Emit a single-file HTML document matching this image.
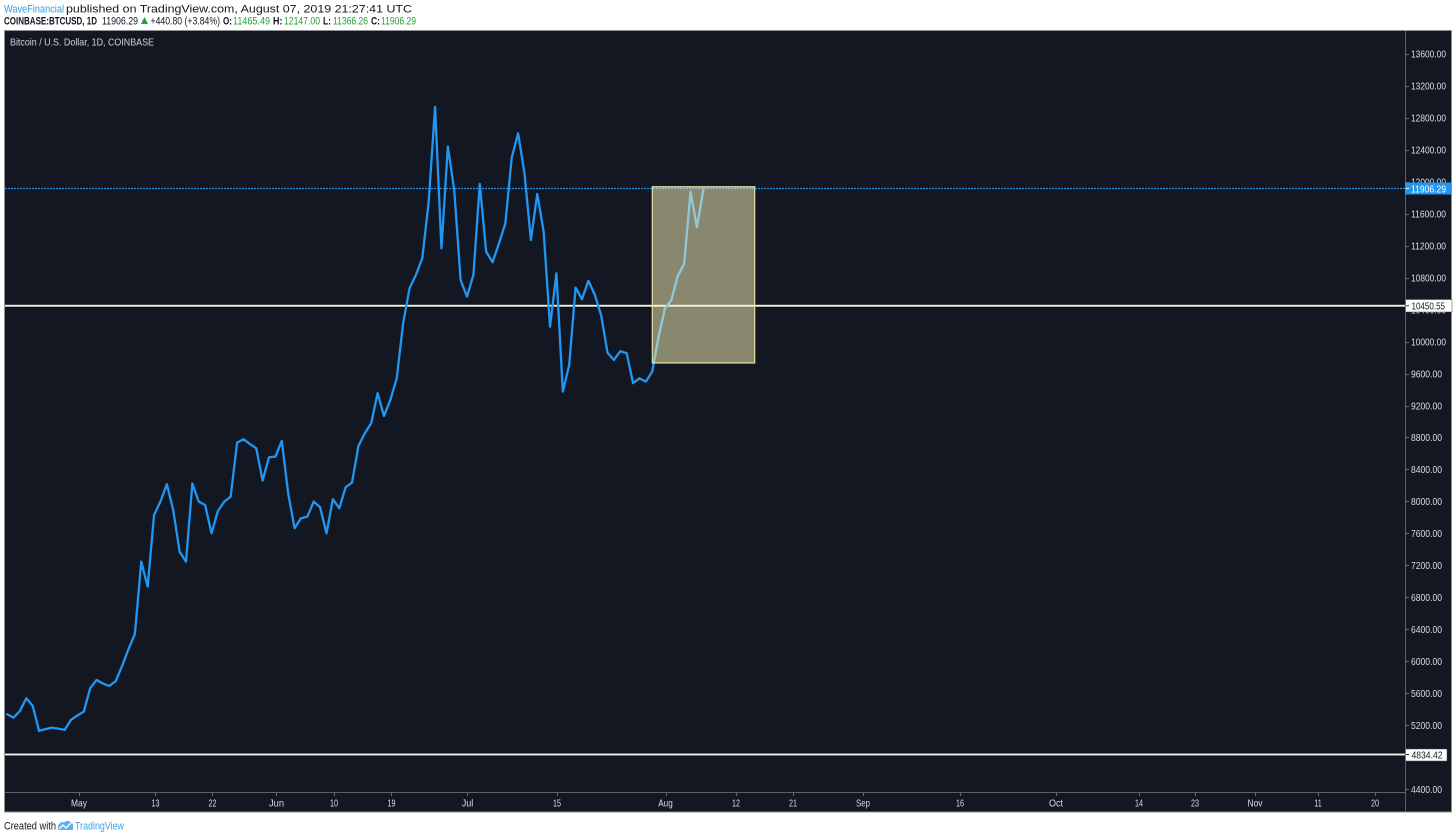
<!DOCTYPE html>
<html>
<head>
<meta charset="utf-8">
<style>
  html,body{margin:0;padding:0;background:#ffffff;}
  body{width:1456px;height:838px;overflow:hidden;}
  svg{display:block;}
  text{font-family:"Liberation Sans",sans-serif;}
</style>
</head>
<body>
<svg width="1456" height="838" viewBox="0 0 1456 838" xmlns="http://www.w3.org/2000/svg">
  <defs>
    <clipPath id="plot"><rect x="5" y="31" width="1400" height="761"/></clipPath>
  </defs>

  <!-- Header -->
  <text x="4" y="12.3" font-size="11" fill="#2f9fe0" textLength="60" lengthAdjust="spacingAndGlyphs">WaveFinancial</text>
  <text x="66" y="12.3" font-size="11" fill="#131722" textLength="346" lengthAdjust="spacingAndGlyphs">published on TradingView.com, August 07, 2019 21:27:41 UTC</text>

  <text x="4" y="24.3" font-size="11" font-weight="bold" fill="#131722" textLength="93" lengthAdjust="spacingAndGlyphs">COINBASE:BTCUSD, 1D</text>
  <text x="102" y="24.3" font-size="11" fill="#131722" textLength="36" lengthAdjust="spacingAndGlyphs">11906.29</text>
  <path d="M141,24 L144.5,17 L148,24 Z" fill="#22a33a"/>
  <text x="150.5" y="24.3" font-size="11" fill="#131722" textLength="69.5" lengthAdjust="spacingAndGlyphs">+440.80 (+3.84%)</text>
  <text x="223" y="24.3" font-size="11" font-weight="bold" fill="#131722" textLength="9" lengthAdjust="spacingAndGlyphs">O:</text>
  <text x="233" y="24.3" font-size="11" fill="#22a33a" textLength="37" lengthAdjust="spacingAndGlyphs">11465.49</text>
  <text x="273" y="24.3" font-size="11" font-weight="bold" fill="#131722" textLength="9.5" lengthAdjust="spacingAndGlyphs">H:</text>
  <text x="284" y="24.3" font-size="11" fill="#22a33a" textLength="36" lengthAdjust="spacingAndGlyphs">12147.00</text>
  <text x="323" y="24.3" font-size="11" font-weight="bold" fill="#131722" textLength="8" lengthAdjust="spacingAndGlyphs">L:</text>
  <text x="333" y="24.3" font-size="11" fill="#22a33a" textLength="35" lengthAdjust="spacingAndGlyphs">11366.26</text>
  <text x="371" y="24.3" font-size="11" font-weight="bold" fill="#131722" textLength="9" lengthAdjust="spacingAndGlyphs">C:</text>
  <text x="381" y="24.3" font-size="11" fill="#22a33a" textLength="35" lengthAdjust="spacingAndGlyphs">11906.29</text>

  <!-- Panel -->
  <rect x="4.5" y="30.5" width="1447" height="781.5" fill="#131722" stroke="#8e9096" stroke-width="1"/>

  <!-- Title -->
  <text x="10" y="45.7" font-size="10.5" fill="#d1d4dc" textLength="144" lengthAdjust="spacingAndGlyphs">Bitcoin / U.S. Dollar, 1D, COINBASE</text>

  <!-- Axis separators -->
  <line x1="5" y1="792.5" x2="1405" y2="792.5" stroke="#5d606b" stroke-width="1"/>
  <line x1="1405.5" y1="31" x2="1405.5" y2="812" stroke="#5d606b" stroke-width="1"/>

  <!-- Price axis ticks & labels -->
  <g stroke="#6a6d78" stroke-width="1">
    <line x1="1406" y1="54.5" x2="1409" y2="54.5"/>
    <line x1="1406" y1="86.5" x2="1409" y2="86.5"/>
    <line x1="1406" y1="118.5" x2="1409" y2="118.5"/>
    <line x1="1406" y1="150.5" x2="1409" y2="150.5"/>
    <line x1="1406" y1="182.5" x2="1409" y2="182.5"/>
    <line x1="1406" y1="214.5" x2="1409" y2="214.5"/>
    <line x1="1406" y1="246.5" x2="1409" y2="246.5"/>
    <line x1="1406" y1="278.5" x2="1409" y2="278.5"/>
    <line x1="1406" y1="310.5" x2="1409" y2="310.5"/>
    <line x1="1406" y1="342.5" x2="1409" y2="342.5"/>
    <line x1="1406" y1="374.5" x2="1409" y2="374.5"/>
    <line x1="1406" y1="406.5" x2="1409" y2="406.5"/>
    <line x1="1406" y1="437.5" x2="1409" y2="437.5"/>
    <line x1="1406" y1="469.5" x2="1409" y2="469.5"/>
    <line x1="1406" y1="501.5" x2="1409" y2="501.5"/>
    <line x1="1406" y1="533.5" x2="1409" y2="533.5"/>
    <line x1="1406" y1="565.5" x2="1409" y2="565.5"/>
    <line x1="1406" y1="597.5" x2="1409" y2="597.5"/>
    <line x1="1406" y1="629.5" x2="1409" y2="629.5"/>
    <line x1="1406" y1="661.5" x2="1409" y2="661.5"/>
    <line x1="1406" y1="693.5" x2="1409" y2="693.5"/>
    <line x1="1406" y1="725.5" x2="1409" y2="725.5"/>
    <line x1="1406" y1="757.5" x2="1409" y2="757.5"/>
    <line x1="1406" y1="789.5" x2="1409" y2="789.5"/>
  </g>
  <g font-size="10.5" fill="#dadde4">
    <text x="1411" y="57.7" textLength="35" lengthAdjust="spacingAndGlyphs">13600.00</text>
    <text x="1411" y="89.7" textLength="35" lengthAdjust="spacingAndGlyphs">13200.00</text>
    <text x="1411" y="121.7" textLength="35" lengthAdjust="spacingAndGlyphs">12800.00</text>
    <text x="1411" y="153.7" textLength="35" lengthAdjust="spacingAndGlyphs">12400.00</text>
    <text x="1411" y="185.7" textLength="35" lengthAdjust="spacingAndGlyphs">12000.00</text>
    <text x="1411" y="217.7" textLength="35" lengthAdjust="spacingAndGlyphs">11600.00</text>
    <text x="1411" y="249.7" textLength="35" lengthAdjust="spacingAndGlyphs">11200.00</text>
    <text x="1411" y="281.7" textLength="35" lengthAdjust="spacingAndGlyphs">10800.00</text>
    <text x="1411" y="313.7" textLength="35" lengthAdjust="spacingAndGlyphs">10400.00</text>
    <text x="1411" y="345.7" textLength="35" lengthAdjust="spacingAndGlyphs">10000.00</text>
    <text x="1411" y="377.7" textLength="31" lengthAdjust="spacingAndGlyphs">9600.00</text>
    <text x="1411" y="409.7" textLength="31" lengthAdjust="spacingAndGlyphs">9200.00</text>
    <text x="1411" y="441.2" textLength="31" lengthAdjust="spacingAndGlyphs">8800.00</text>
    <text x="1411" y="473.2" textLength="31" lengthAdjust="spacingAndGlyphs">8400.00</text>
    <text x="1411" y="505.2" textLength="31" lengthAdjust="spacingAndGlyphs">8000.00</text>
    <text x="1411" y="537.2" textLength="31" lengthAdjust="spacingAndGlyphs">7600.00</text>
    <text x="1411" y="569.2" textLength="31" lengthAdjust="spacingAndGlyphs">7200.00</text>
    <text x="1411" y="601.2" textLength="31" lengthAdjust="spacingAndGlyphs">6800.00</text>
    <text x="1411" y="633.2" textLength="31" lengthAdjust="spacingAndGlyphs">6400.00</text>
    <text x="1411" y="665.2" textLength="31" lengthAdjust="spacingAndGlyphs">6000.00</text>
    <text x="1411" y="697.2" textLength="31" lengthAdjust="spacingAndGlyphs">5600.00</text>
    <text x="1411" y="729.2" textLength="31" lengthAdjust="spacingAndGlyphs">5200.00</text>
    <text x="1411" y="761.2" textLength="31" lengthAdjust="spacingAndGlyphs">4800.00</text>
    <text x="1411" y="793" textLength="31" lengthAdjust="spacingAndGlyphs">4400.00</text>
  </g>

  <!-- Time axis ticks & labels -->
  <g stroke="#6a6d78" stroke-width="1">
    <line x1="79.5" y1="793" x2="79.5" y2="796"/>
    <line x1="155.5" y1="793" x2="155.5" y2="796"/>
    <line x1="212.5" y1="793" x2="212.5" y2="796"/>
    <line x1="276.5" y1="793" x2="276.5" y2="796"/>
    <line x1="334.5" y1="793" x2="334.5" y2="796"/>
    <line x1="391.5" y1="793" x2="391.5" y2="796"/>
    <line x1="467.5" y1="793" x2="467.5" y2="796"/>
    <line x1="557.5" y1="793" x2="557.5" y2="796"/>
    <line x1="666.5" y1="793" x2="666.5" y2="796"/>
    <line x1="736.5" y1="793" x2="736.5" y2="796"/>
    <line x1="793.5" y1="793" x2="793.5" y2="796"/>
    <line x1="863.5" y1="793" x2="863.5" y2="796"/>
    <line x1="960.5" y1="793" x2="960.5" y2="796"/>
    <line x1="1056.5" y1="793" x2="1056.5" y2="796"/>
    <line x1="1139.5" y1="793" x2="1139.5" y2="796"/>
    <line x1="1195.5" y1="793" x2="1195.5" y2="796"/>
    <line x1="1255.5" y1="793" x2="1255.5" y2="796"/>
    <line x1="1318.5" y1="793" x2="1318.5" y2="796"/>
    <line x1="1375.5" y1="793" x2="1375.5" y2="796"/>
  </g>
  <g font-size="10.5" fill="#dadde4" text-anchor="middle">
    <text x="79" y="806.5" textLength="16" lengthAdjust="spacingAndGlyphs">May</text>
    <text x="155.5" y="806.5" textLength="8" lengthAdjust="spacingAndGlyphs">13</text>
    <text x="212.5" y="806.5" textLength="8" lengthAdjust="spacingAndGlyphs">22</text>
    <text x="276.5" y="806.5" textLength="15" lengthAdjust="spacingAndGlyphs">Jun</text>
    <text x="334" y="806.5" textLength="8" lengthAdjust="spacingAndGlyphs">10</text>
    <text x="391.5" y="806.5" textLength="8" lengthAdjust="spacingAndGlyphs">19</text>
    <text x="467.5" y="806.5" textLength="11.5" lengthAdjust="spacingAndGlyphs">Jul</text>
    <text x="557" y="806.5" textLength="8" lengthAdjust="spacingAndGlyphs">15</text>
    <text x="665.5" y="806.5" textLength="14.5" lengthAdjust="spacingAndGlyphs">Aug</text>
    <text x="736" y="806.5" textLength="8" lengthAdjust="spacingAndGlyphs">12</text>
    <text x="793" y="806.5" textLength="8" lengthAdjust="spacingAndGlyphs">21</text>
    <text x="863" y="806.5" textLength="14" lengthAdjust="spacingAndGlyphs">Sep</text>
    <text x="960" y="806.5" textLength="8" lengthAdjust="spacingAndGlyphs">16</text>
    <text x="1056" y="806.5" textLength="14" lengthAdjust="spacingAndGlyphs">Oct</text>
    <text x="1139" y="806.5" textLength="8" lengthAdjust="spacingAndGlyphs">14</text>
    <text x="1195" y="806.5" textLength="8" lengthAdjust="spacingAndGlyphs">23</text>
    <text x="1255" y="806.5" textLength="15" lengthAdjust="spacingAndGlyphs">Nov</text>
    <text x="1318" y="806.5" textLength="7.5" lengthAdjust="spacingAndGlyphs">11</text>
    <text x="1375" y="806.5" textLength="8" lengthAdjust="spacingAndGlyphs">20</text>
  </g>

  <!-- Plot content -->
  <g clip-path="url(#plot)">
    <!-- last price dotted line -->
    <line x1="5" y1="188.5" x2="1405" y2="188.5" stroke="#2196f3" stroke-width="1.2" stroke-dasharray="2 1" stroke-opacity="0.95"/>
    <!-- horizontal white levels -->
    <line x1="5" y1="305.8" x2="1405" y2="305.8" stroke="#000000" stroke-width="4" stroke-opacity="0.6"/>
    <line x1="5" y1="305.8" x2="1405" y2="305.8" stroke="#ececec" stroke-width="2"/>
    <line x1="5" y1="754.5" x2="1405" y2="754.5" stroke="#000000" stroke-width="4" stroke-opacity="0.6"/>
    <line x1="5" y1="754.5" x2="1405" y2="754.5" stroke="#ececec" stroke-width="2"/>

    <!-- price line -->
    <path transform="matrix(6.387,0,0,-0.07989,77.4,1140.5)" fill="none" stroke="#2196f3" stroke-width="2.3" stroke-linejoin="round" stroke-linecap="round" vector-effect="non-scaling-stroke"
      d="M-11,5336 L-10,5294 L-9,5377 L-8,5536 L-7,5440 L-6,5127 L-5,5150 L-4,5168 L-3,5155 L-2,5140 L-1,5265
         L0,5320 L1,5368 L2,5662 L3,5765 L4,5720 L5,5690 L6,5750 L7,5940 L8,6150 L9,6340
         L10,7246 L11,6933 L12,7830 L13,7997 L14,8215 L15,7893 L16,7371 L17,7246 L18,8224 L19,7997
         L20,7955 L21,7600 L22,7880 L23,7997 L24,8060 L25,8735 L26,8778 L27,8719 L28,8665 L29,8260
         L30,8552 L31,8560 L32,8757 L33,8102 L34,7664 L35,7789 L36,7809 L37,7997 L38,7927 L39,7600
         L40,8027 L41,7914 L42,8177 L43,8235 L44,8694 L45,8853 L46,8978 L47,9354 L48,9069 L49,9270
         L50,9541 L51,10229 L52,10667 L53,10834 L54,11043 L55,11750 L56,12937 L57,11168 L58,12440 L59,11898
         L60,10771 L61,10563 L62,10834 L63,11973 L64,11126 L65,10993 L66,11228 L67,11478 L68,12302 L69,12608
         L70,12107 L71,11272 L72,11848 L73,11376 L74,10187 L75,10855 L76,9374 L77,9708 L78,10676 L79,10530
         L80,10760 L81,10590 L82,10330 L83,9860 L84,9770 L85,9880 L86,9854 L87,9479 L88,9541 L89,9499
         L90,9624 L91,10062 L92,10417 L93,10521 L94,10822 L95,10972 L96,11877 L97,11431 L98,11906"/>

    <!-- highlight rectangle -->
    <rect x="652.3" y="186.7" width="102.4" height="176.3" fill="rgba(255,250,188,0.5)" stroke="rgba(255,246,180,0.85)" stroke-width="1.2"/>
  </g>

  <!-- Price labels on axis -->
  <rect x="1405" y="182.5" width="46" height="12" fill="#2196f3"/>
  <line x1="1406" y1="188.5" x2="1409" y2="188.5" stroke="#ffffff" stroke-width="1"/>
  <text x="1411" y="192.3" font-size="10.5" fill="#ffffff" textLength="35" lengthAdjust="spacingAndGlyphs">11906.29</text>

  <rect x="1405.5" y="299.5" width="46.5" height="12.5" fill="#ffffff" stroke="#444" stroke-width="0.5"/>
  <line x1="1406" y1="305.8" x2="1409" y2="305.8" stroke="#333" stroke-width="1"/>
  <text x="1411.5" y="309.6" font-size="10.5" fill="#131722" textLength="33.5" lengthAdjust="spacingAndGlyphs">10450.55</text>

  <rect x="1405.5" y="749" width="41.5" height="12" fill="#ffffff" stroke="#444" stroke-width="0.5"/>
  <line x1="1406" y1="754.5" x2="1409" y2="754.5" stroke="#333" stroke-width="1"/>
  <text x="1411.5" y="758.4" font-size="10.5" fill="#131722" textLength="31" lengthAdjust="spacingAndGlyphs">4834.42</text>

  <!-- Footer -->
  <text x="4" y="829.5" font-size="11" fill="#131722" textLength="52" lengthAdjust="spacingAndGlyphs">Created with</text>
  <path d="M58,830 L58,826 Q60,821 64,822.5 Q67,819.5 70.5,822 Q73.5,823 73,827 L73,830 Z" fill="#5ab2ea"/>
  <path d="M59,829 L63,825 L66,828 L71.5,822.5" fill="none" stroke="#ffffff" stroke-width="1.3"/>
  <text x="75" y="829.5" font-size="11" fill="#3ba3e0" textLength="49" lengthAdjust="spacingAndGlyphs">TradingView</text>
</svg>
</body>
</html>
